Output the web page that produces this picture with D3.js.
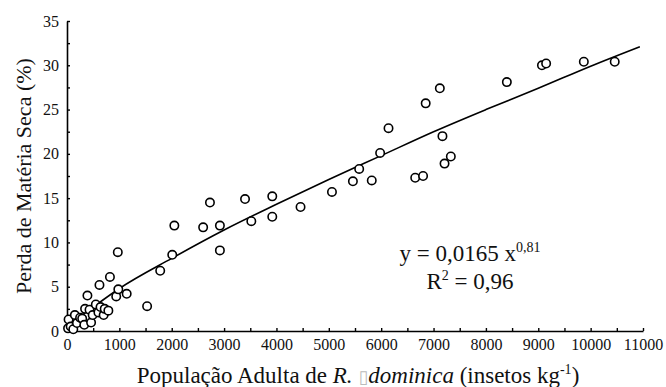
<!DOCTYPE html>
<html>
<head>
<meta charset="utf-8">
<script src="https://cdn.jsdelivr.net/npm/d3@7"></script>
<style>
  body { margin: 0; background: #fff; }
  svg text { font-family: "Liberation Serif", "DejaVu Serif", serif !important; }
</style>
</head>
<body>
<svg id="chart" width="666" height="387"></svg>
<script>
// population (insects per kg) and dry matter loss (%)
const popX = [20, 30, 70, 120, 150, 190, 250, 290, 330, 345, 390, 430, 460, 490, 550, 600, 620, 640, 700, 720, 790, 820, 940, 970, 980, 1140,
  1530, 1780, 2010, 2050, 2600, 2730, 2920, 2920, 3400, 3520, 3920, 3920, 4460, 5060, 5460, 5580, 5820, 5980, 6140,
  6650, 6800, 6850, 7120, 7170, 7210, 7330, 8400, 9070, 9150, 9870, 10460];
const lossY = [0.3, 1.3, 0.5, 0.2, 1.8, 0.9, 1.5, 1.4, 0.7, 2.5, 4.0, 2.4, 0.95, 1.8, 3.0, 2.1, 5.2, 2.7, 1.8, 2.5, 2.3, 6.1, 3.9, 8.9, 4.7, 4.2,
  2.8, 6.8, 8.6, 11.9, 11.7, 14.5, 11.9, 9.1, 14.9, 12.4, 15.2, 12.9, 14.0, 15.7, 16.9, 18.3, 17.0, 20.1, 22.9,
  17.3, 17.5, 25.7, 27.4, 22.0, 18.9, 19.7, 28.1, 30.0, 30.2, 30.4, 30.4];

// fitted curve
const fitX = [0, 100, 250, 500, 1000, 2000, 3000, 4000, 5000, 6000, 7000, 8000, 9000, 10000, 10940];
const fitY = [0, 0.75, 1.6, 2.7, 4.8, 8.2, 11.4, 14.3, 17.1, 19.8, 22.5, 25.0, 27.4, 29.9, 32.1];

const xTicks = d3.range(0, 11001, 500);
const yTicks = d3.range(0, 35.01, 2.5);

const serif = "'Liberation Serif', 'DejaVu Serif', serif";
const svg = d3.select("#chart").attr("font-family", serif);

const x = d3.scaleLinear().domain([0, 11000]).range([67, 643]);
const y = d3.scaleLinear().domain([0, 35]).range([331, 21]);

// axes
const xAxis = svg.append("g")
  .attr("transform", "translate(0," + y(0) + ")")
  .call(d3.axisBottom(x)
    .tickValues(xTicks)
    .tickSizeInner(-3)
    .tickSizeOuter(0)
    .tickPadding(8)
    .tickFormat(d => d % 1000 === 0 ? d : ""));

const yAxis = svg.append("g")
  .attr("transform", "translate(" + x(0) + ",0)")
  .call(d3.axisLeft(y)
    .tickValues(yTicks)
    .tickSizeInner(-3)
    .tickSizeOuter(0)
    .tickPadding(8)
    .tickFormat(d => d % 5 === 0 ? d : ""));

[xAxis, yAxis].forEach(g => {
  g.attr("font-family", serif).attr("font-size", 16);
  g.select(".domain").attr("stroke", "#000").attr("stroke-width", 1.6);
  g.selectAll(".tick line").attr("stroke", "#000").attr("stroke-width", 1.4);
  g.selectAll("text").attr("fill", "#111");
});

// fit curve
const line = d3.line()
  .x((d, i) => x(fitX[i]))
  .y((d, i) => y(fitY[i]))
  .curve(d3.curveMonotoneX);

svg.append("path")
  .datum(fitX)
  .attr("d", line)
  .attr("fill", "none")
  .attr("stroke", "#000")
  .attr("stroke-width", 1.6);

// points
svg.append("g")
  .selectAll("circle")
  .data(popX)
  .enter()
  .append("circle")
  .attr("cx", (d) => x(d))
  .attr("cy", (d, i) => y(lossY[i]))
  .attr("r", 4.2)
  .attr("fill", "#fff")
  .attr("stroke", "#000")
  .attr("stroke-width", 1.6);

// equation
const eq = svg.append("text")
  .attr("x", 470)
  .attr("y", 261)
  .attr("text-anchor", "middle")
  .attr("fill", "#111")
  .attr("font-size", 23);
eq.append("tspan").text("y = 0,0165 x");
eq.append("tspan").attr("dy", -9).attr("font-size", 14).text("0,81");

const r2 = svg.append("text")
  .attr("x", 470)
  .attr("y", 289)
  .attr("text-anchor", "middle")
  .attr("fill", "#111")
  .attr("font-size", 23);
r2.append("tspan").text("R");
r2.append("tspan").attr("dy", -9).attr("font-size", 14).text("2");
r2.append("tspan").attr("dy", 9).text(" = 0,96");

// axis titles
const xt = svg.append("text")
  .attr("x", 358)
  .attr("y", 383)
  .attr("text-anchor", "middle")
  .attr("fill", "#111")
  .attr("font-size", 23);
xt.append("tspan").text("População Adulta de ");
xt.append("tspan").attr("font-style", "italic").text("R. ");
xt.append("tspan").attr("fill", "#bbb").attr("font-size", 18).text("▯");
xt.append("tspan").attr("font-style", "italic").text("dominica");
xt.append("tspan").text(" (insetos kg");
xt.append("tspan").attr("dy", -9).attr("font-size", 14).text("-1");
xt.append("tspan").attr("dy", 9).text(")");

svg.append("text")
  .attr("transform", "translate(31,176) rotate(-90)")
  .attr("text-anchor", "middle")
  .attr("fill", "#111")
  .attr("font-size", 22)
  .text("Perda de Matéria Seca (%)");
</script>
</body>
</html>
